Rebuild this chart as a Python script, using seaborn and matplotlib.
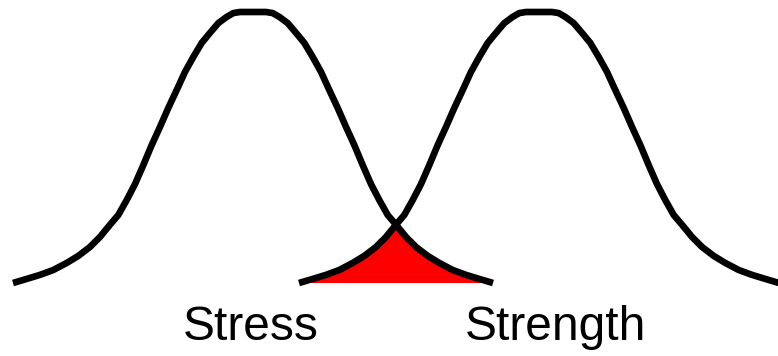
import numpy as np
import pandas as pd
import matplotlib
matplotlib.use("Agg")
import matplotlib.pyplot as plt
import seaborn as sns

# Centres of the two distributions (arbitrary load units)
stress_mean = 25.3
strength_mean = 53.9

# Shared bell profile: distance from the centre and relative height
profile_offset = [0.0, 1.3, 1.97, 2.63, 3.47, 4.3, 5.13, 5.97, 6.8, 7.63, 8.47, 9.3,
                  10.13, 10.97, 11.8, 12.63, 13.47, 14.3, 15.3, 16.3, 17.47, 18.63,
                  19.97, 21.3, 22.63, 24.0]
profile_height = [1.000, 1.000, 0.996, 0.982, 0.959, 0.923, 0.886, 0.834, 0.779, 0.712,
                  0.646, 0.576, 0.509, 0.435, 0.365, 0.306, 0.251, 0.215, 0.170, 0.133,
                  0.100, 0.074, 0.048, 0.030, 0.015, 0.0]

labels = ["Stress", "Strength"]


def bell(mean):
    off = np.asarray(profile_offset)
    h = np.asarray(profile_height)
    x = np.concatenate([mean - off[::-1], mean + off[1:]])
    y = np.concatenate([h[::-1], h[1:]])
    return x, y


sx, sy = bell(stress_mean)
tx, ty = bell(strength_mean)

df = pd.concat([
    pd.DataFrame({"load": sx, "density": sy, "curve": labels[0]}),
    pd.DataFrame({"load": tx, "density": ty, "curve": labels[1]}),
])

sns.set_style("white")
fig = plt.figure(figsize=(7.78, 3.56), dpi=100)
ax = fig.add_axes([0, 0, 1, 1])

# Interference region: left tail of strength up to the crossing, then right tail of stress
cross = (stress_mean + strength_mean) / 2
left = tx <= cross + 1e-9
right = sx >= cross - 1e-9
fx = np.concatenate([tx[left], sx[right][1:]])
fy = np.concatenate([ty[left], sy[right][1:]])
ax.fill(np.concatenate([fx, [fx[-1], fx[0]]]),
        np.concatenate([fy, [0.0, 0.0]]),
        color="#ff0000", lw=0, zorder=1)

sns.lineplot(data=df, x="load", y="density", units="curve", estimator=None,
             sort=False, color="black", lw=4.8, ax=ax, legend=False,
             solid_capstyle="butt", solid_joinstyle="round", zorder=2)

text_font = ["Liberation Sans", "DejaVu Sans"]
ax.text(25.05, -0.210, labels[0], ha="center", va="baseline", color="black",
        fontsize=34.5, family=text_font)
ax.text(55.5, -0.210, labels[1], ha="center", va="baseline", color="black",
        fontsize=34.5, family=text_font)

ax.set_xlim(0, 77.8)
ax.set_ylim(-73 / 271, 283 / 271)
ax.axis("off")

fig.savefig("out.png", dpi=100, facecolor="white")
